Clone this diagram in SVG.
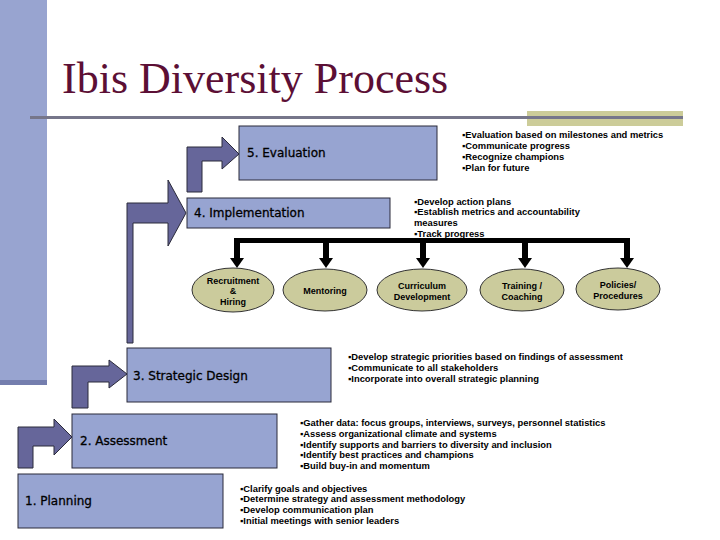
<svg xmlns="http://www.w3.org/2000/svg" width="720" height="540" viewBox="0 0 720 540">
<style>
.box{fill:#97a4d1;stroke:#2a2a3a;stroke-width:1}
.step{fill:#66669a;stroke:#2a2a3a;stroke-width:1}
.oval{fill:#cbcb9c;stroke:#333;stroke-width:1}
.lbl{font-family:"DejaVu Sans",Verdana,sans-serif;font-size:12px;fill:#000;stroke:#000;stroke-width:0.3}
.bul{font-family:"Liberation Sans",Arial,sans-serif;font-size:9.4px;font-weight:bold;fill:#000}
.ov{font-family:"Liberation Sans",Arial,sans-serif;font-size:9px;font-weight:bold;fill:#000;text-anchor:middle}
.bus{stroke:#000;stroke-width:5;fill:none}
.drop{stroke:#000;stroke-width:6;fill:none;marker-end:url(#head)}
</style>
<defs>
<marker id="head" markerUnits="userSpaceOnUse" markerWidth="16" markerHeight="14" refX="0" refY="7" viewBox="0 0 10 14" orient="auto">
<path d="M0,0 L10,7 L0,14 Z" fill="#000"/>
</marker>
</defs>
<rect width="720" height="540" fill="#fff"/>
<g id="frame">
<rect x="0" y="0" width="47" height="385" fill="#98a4d0"/>
<rect x="0" y="380" width="47" height="5" fill="#747eae"/>
<rect x="527" y="111" width="156" height="15" fill="#cccc99"/>
<rect x="30" y="116" width="653" height="3" fill="#76768a"/>
<text x="62" y="93" font-family="'Liberation Serif','Times New Roman',serif" font-size="44" fill="#5c0f35">Ibis Diversity Process</text>
</g>
<g id="connectors">
<path class="step" d="M187,192 L187,147 L222,147 L222,137 L239,154 L222,169 L222,161 L202,161 L202,192 Z"/>
<path class="step" d="M127,343 L127,203 L168,203 L168,180 L186,213 L168,246 L168,223 L133,223 L133,343 Z"/>
<path class="step" d="M72,408 L72,366 L109,366 L109,360 L127,374 L109,388 L109,382 L88,382 L88,408 Z"/>
<path class="step" d="M18,468 L18,427 L54,427 L54,419 L72,437 L54,455 L54,446 L33,446 L33,468 Z"/>
<path class="bus" d="M234,240.5 L630,240.5"/>
<path class="drop" d="M237,238 L237,258"/>
<path class="drop" d="M326,238 L326,258"/>
<path class="drop" d="M423,238 L423,258"/>
<path class="drop" d="M525,238 L525,258"/>
<path class="drop" d="M627,238 L627,258"/>
</g>
<g id="n5">
<rect class="box" x="239" y="126" width="198" height="54"/>
<text class="lbl" x="247" y="157">5. Evaluation</text>
<text class="bul" x="462" y="138">▪Evaluation based on milestones and metrics</text>
<text class="bul" x="462" y="149">▪Communicate progress</text>
<text class="bul" x="462" y="160">▪Recognize champions</text>
<text class="bul" x="462" y="171">▪Plan for future</text>
</g>
<g id="n4">
<rect class="box" x="187" y="198" width="203" height="30"/>
<text class="lbl" x="194" y="217">4. Implementation</text>
<text class="bul" x="414" y="205">▪Develop action plans</text>
<text class="bul" x="414" y="215">▪Establish metrics and accountability</text>
<text class="bul" x="414" y="226">measures</text>
<text class="bul" x="414" y="236.5">▪Track progress</text>
</g>
<g id="o1">
<ellipse class="oval" cx="233" cy="290" rx="41" ry="22"/>
<text class="ov" x="233" y="284">Recruitment</text>
<text class="ov" x="233" y="294">&amp;</text>
<text class="ov" x="233" y="305">Hiring</text>
</g>
<g id="o2">
<ellipse class="oval" cx="325" cy="290" rx="42" ry="21"/>
<text class="ov" x="325" y="294">Mentoring</text>
</g>
<g id="o3">
<ellipse class="oval" cx="422" cy="290" rx="45" ry="21"/>
<text class="ov" x="422" y="289">Curriculum</text>
<text class="ov" x="422" y="300">Development</text>
</g>
<g id="o4">
<ellipse class="oval" cx="522" cy="290" rx="42" ry="21"/>
<text class="ov" x="522" y="289">Training /</text>
<text class="ov" x="522" y="300">Coaching</text>
</g>
<g id="o5">
<ellipse class="oval" cx="618" cy="289" rx="42" ry="21"/>
<text class="ov" x="618" y="288">Policies/</text>
<text class="ov" x="618" y="299">Procedures</text>
</g>
<g id="n3">
<rect class="box" x="127" y="348" width="204" height="54"/>
<text class="lbl" x="133" y="380">3. Strategic Design</text>
<text class="bul" x="348" y="360">▪Develop strategic priorities based on findings of assessment</text>
<text class="bul" x="348" y="371">▪Communicate to all stakeholders</text>
<text class="bul" x="348" y="382">▪Incorporate into overall strategic planning</text>
</g>
<g id="n2">
<rect class="box" x="72" y="414" width="205" height="54"/>
<text class="lbl" x="80" y="445">2. Assessment</text>
<text class="bul" x="300" y="426">▪Gather data: focus groups, interviews, surveys, personnel statistics</text>
<text class="bul" x="300" y="437">▪Assess organizational climate and systems</text>
<text class="bul" x="300" y="448">▪Identify supports and barriers to diversity and inclusion</text>
<text class="bul" x="300" y="458">▪Identify best practices and champions</text>
<text class="bul" x="300" y="469">▪Build buy-in and momentum</text>
</g>
<g id="n1">
<rect class="box" x="18" y="474" width="205" height="54"/>
<text class="lbl" x="25" y="505">1. Planning</text>
<text class="bul" x="240" y="492">▪Clarify goals and objectives</text>
<text class="bul" x="240" y="502">▪Determine strategy and assessment methodology</text>
<text class="bul" x="240" y="513">▪Develop communication plan</text>
<text class="bul" x="240" y="524">▪Initial meetings with senior leaders</text>
</g>
</svg>
